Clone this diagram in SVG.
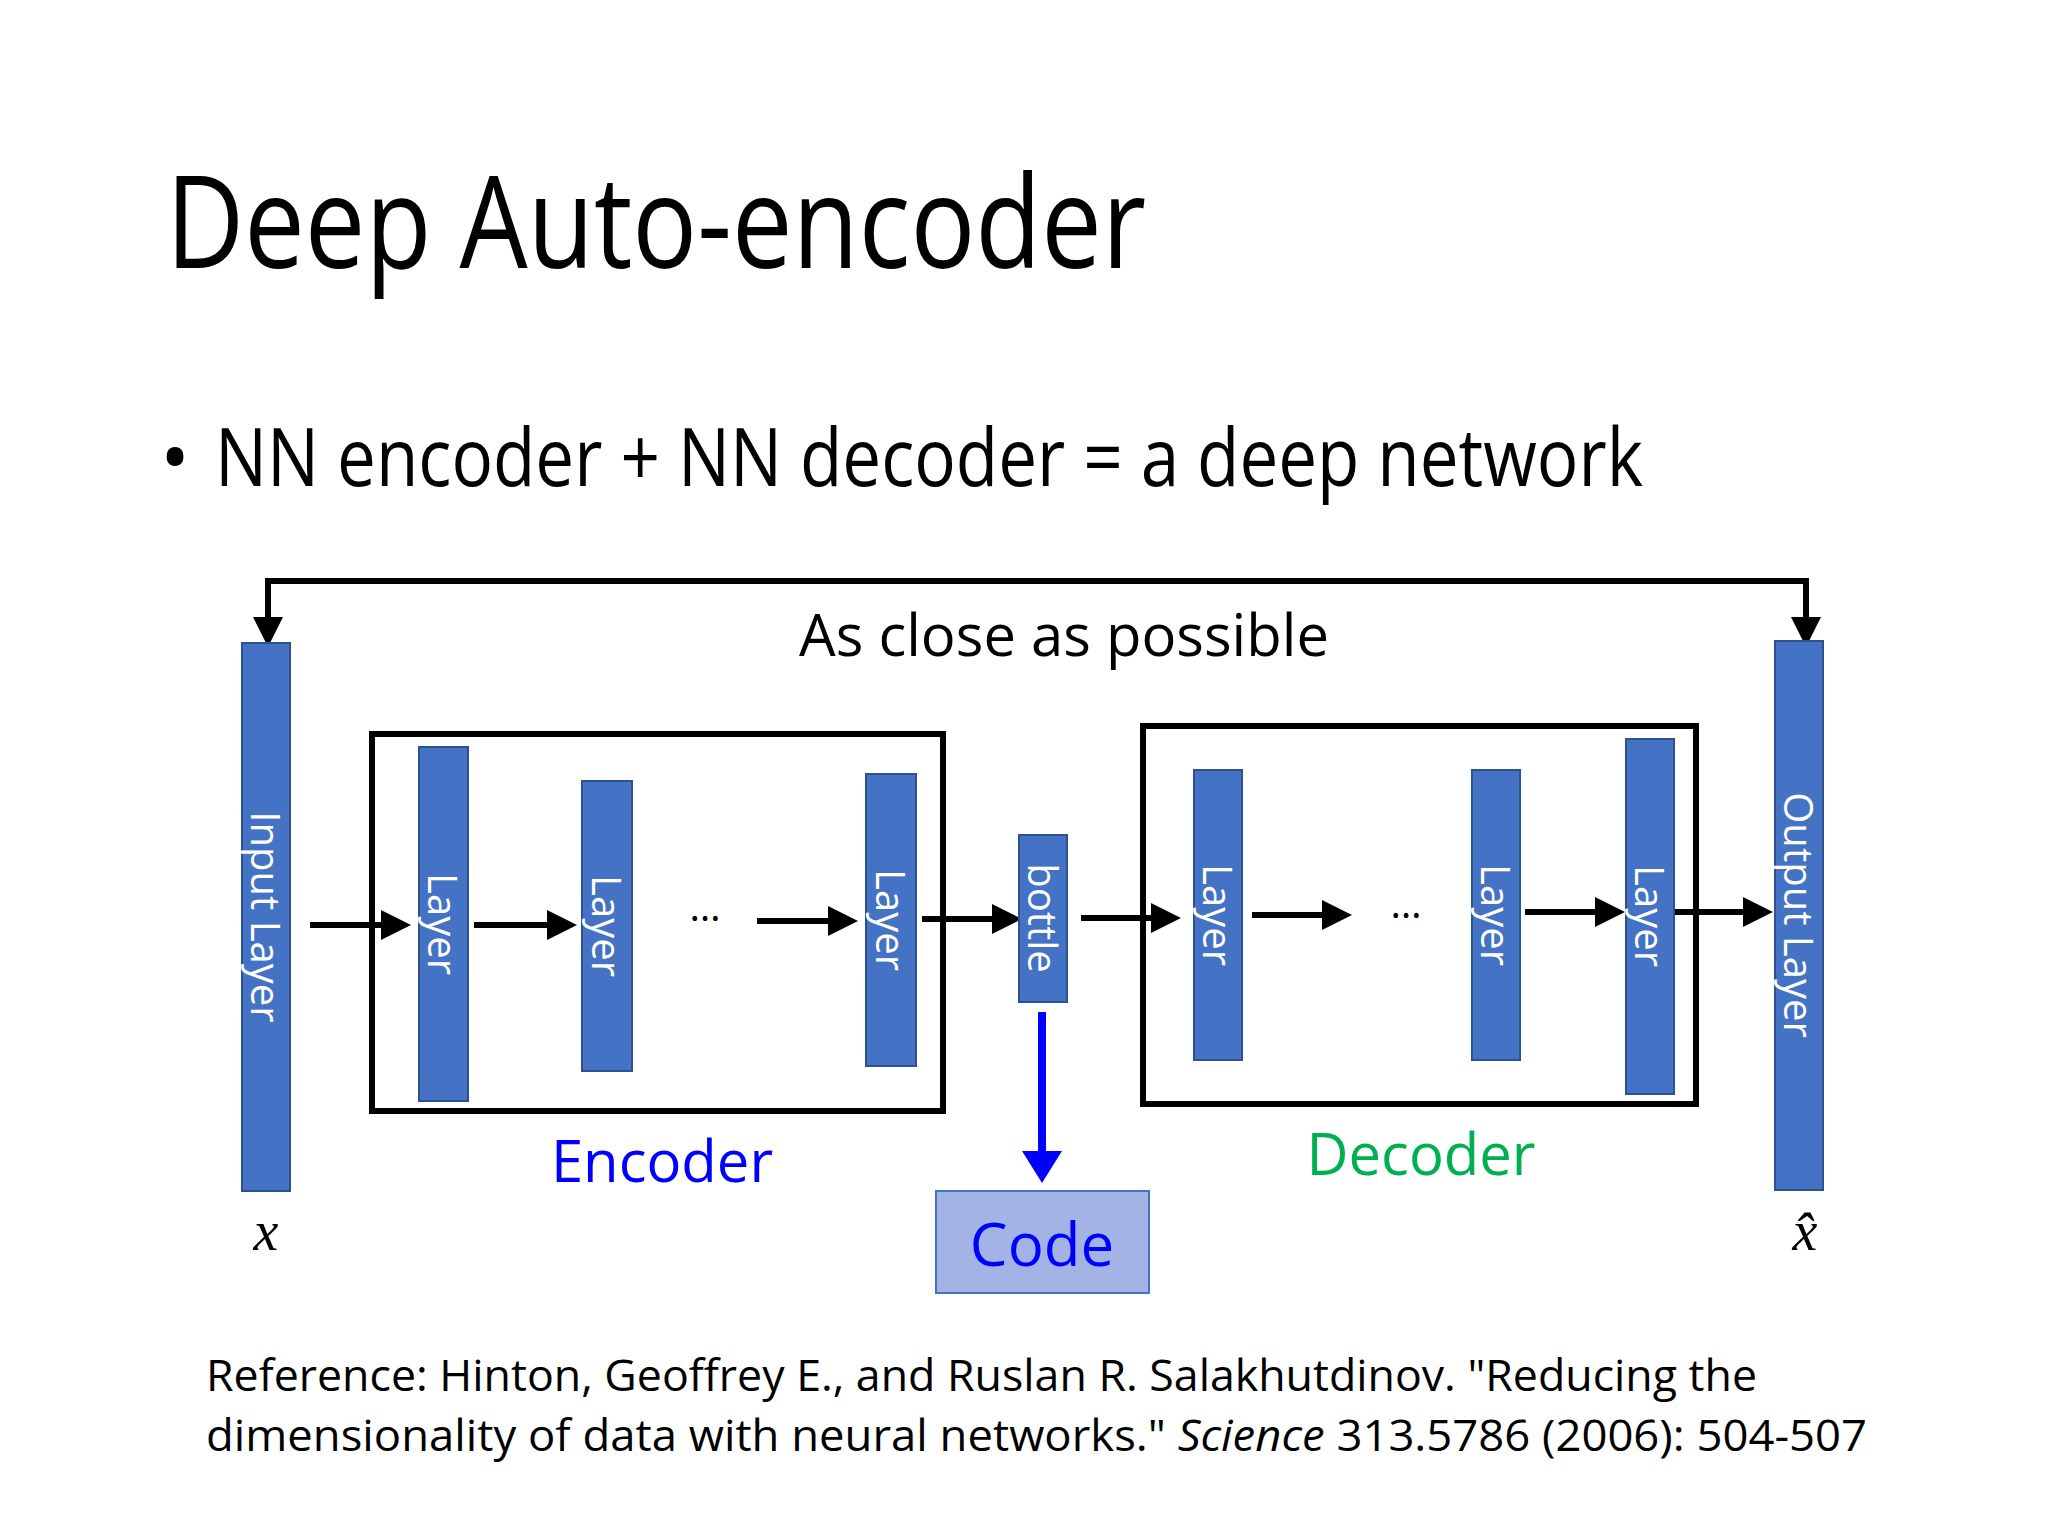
<svg xmlns="http://www.w3.org/2000/svg" width="2048" height="1536" viewBox="0 0 2048 1536">
<defs>
<style>
text{font-family:"Open Sans","Liberation Sans",sans-serif}
.layer{fill:#4472c4;stroke:#2f528f;stroke-width:2}
.lt{fill:#fff;font-size:40px;text-anchor:middle;dominant-baseline:central}
.box{fill:none;stroke:#000;stroke-width:6}
.arr{stroke:#000;stroke-width:6;fill:none;marker-end:url(#ah)}
</style>
<marker id="ah" markerWidth="5" markerHeight="5" refX="4" refY="2.5" orient="auto" markerUnits="strokeWidth"><path d="M0,0L5,2.5L0,5z" fill="#000"/></marker>
<marker id="bh" markerWidth="4" markerHeight="5" refX="3" refY="2.5" orient="auto" markerUnits="strokeWidth"><path d="M0,0L4,2.5L0,5z" fill="#0000ff"/></marker>
</defs>
<rect width="2048" height="1536" fill="#fff"/>
<text x="166" y="268" font-size="128" textLength="980" lengthAdjust="spacingAndGlyphs">Deep Auto-encoder</text>
<text x="160" y="486" font-size="80">•</text>
<text x="215" y="486" font-size="80" textLength="1428" lengthAdjust="spacingAndGlyphs">NN encoder + NN decoder = a deep network</text>
<g id="connectors">
<path d="M268,640V581H1806V640" fill="none" stroke="#000" stroke-width="6"/>
<path d="M268,620V641" class="arr"/>
<path d="M1806,620V641" class="arr"/>
<path d="M310,925H405" class="arr"/>
<path d="M474,925H571" class="arr"/>
<path d="M757,921H852" class="arr"/>
<path d="M922,919H1016" class="arr"/>
<path d="M1081,918H1175" class="arr"/>
<path d="M1252,915H1346" class="arr"/>
<path d="M1525,912H1619" class="arr"/>
<path d="M1673,912H1767" class="arr"/>
<path d="M1042,1012V1175" stroke="#0000ff" stroke-width="8" fill="none" marker-end="url(#bh)"/>
</g>
<text x="1064" y="656" font-size="58" text-anchor="middle">As close as possible</text>
<g id="input"><rect class="layer" x="242" y="643" width="48" height="548"/><text class="lt" transform="translate(266,917) rotate(90)">Input Layer</text></g>
<g id="encoder"><rect class="box" x="372" y="734" width="571" height="377"/><text x="662" y="1182" font-size="58" fill="#0000ff" text-anchor="middle">Encoder</text></g>
<g id="e1"><rect class="layer" x="419" y="747" width="49" height="354"/><text class="lt" transform="translate(443,924) rotate(90)">Layer</text></g>
<g id="e2"><rect class="layer" x="582" y="781" width="50" height="290"/><text class="lt" transform="translate(607,926) rotate(90)">Layer</text></g>
<text x="705" y="921" font-size="40" text-anchor="middle">…</text>
<g id="e3"><rect class="layer" x="866" y="774" width="50" height="292"/><text class="lt" transform="translate(891,920) rotate(90)">Layer</text></g>
<g id="bottle"><rect class="layer" x="1019" y="835" width="48" height="167"/><text class="lt" transform="translate(1043,918) rotate(90)">bottle</text></g>
<g id="code"><rect x="936" y="1191" width="213" height="102" fill="#a3b3e6" stroke="#4472c4" stroke-width="2"/><text x="1042" y="1266" font-size="60" fill="#0000ff" text-anchor="middle">Code</text></g>
<g id="decoder"><rect class="box" x="1143" y="726" width="553" height="378"/><text x="1421" y="1175" font-size="58" fill="#00b050" text-anchor="middle">Decoder</text></g>
<g id="d1"><rect class="layer" x="1194" y="770" width="48" height="290"/><text class="lt" transform="translate(1218,915) rotate(90)">Layer</text></g>
<text x="1406" y="918" font-size="40" text-anchor="middle">…</text>
<g id="d2"><rect class="layer" x="1472" y="770" width="48" height="290"/><text class="lt" transform="translate(1496,915) rotate(90)">Layer</text></g>
<g id="d3"><rect class="layer" x="1626" y="739" width="48" height="355"/><text class="lt" transform="translate(1650,916) rotate(90)">Layer</text></g>
<g id="output"><rect class="layer" x="1775" y="641" width="48" height="549"/><text class="lt" transform="translate(1799,915) rotate(90)">Output Layer</text></g>
<text x="266" y="1250" font-size="56" font-style="italic" font-family="Liberation Serif,serif" text-anchor="middle" style="font-family:'Liberation Serif',serif">x</text>
<text x="1805" y="1250" font-size="56" font-style="italic" text-anchor="middle" style="font-family:'Liberation Serif',serif">x̂</text>
<text x="206" y="1391" font-size="44" textLength="1551" lengthAdjust="spacingAndGlyphs">Reference: Hinton, Geoffrey E., and Ruslan R. Salakhutdinov. "Reducing the</text>
<text x="206" y="1451" font-size="44" textLength="1661" lengthAdjust="spacingAndGlyphs">dimensionality of data with neural networks." <tspan font-style="italic">Science</tspan> 313.5786 (2006): 504-507</text>
</svg>
